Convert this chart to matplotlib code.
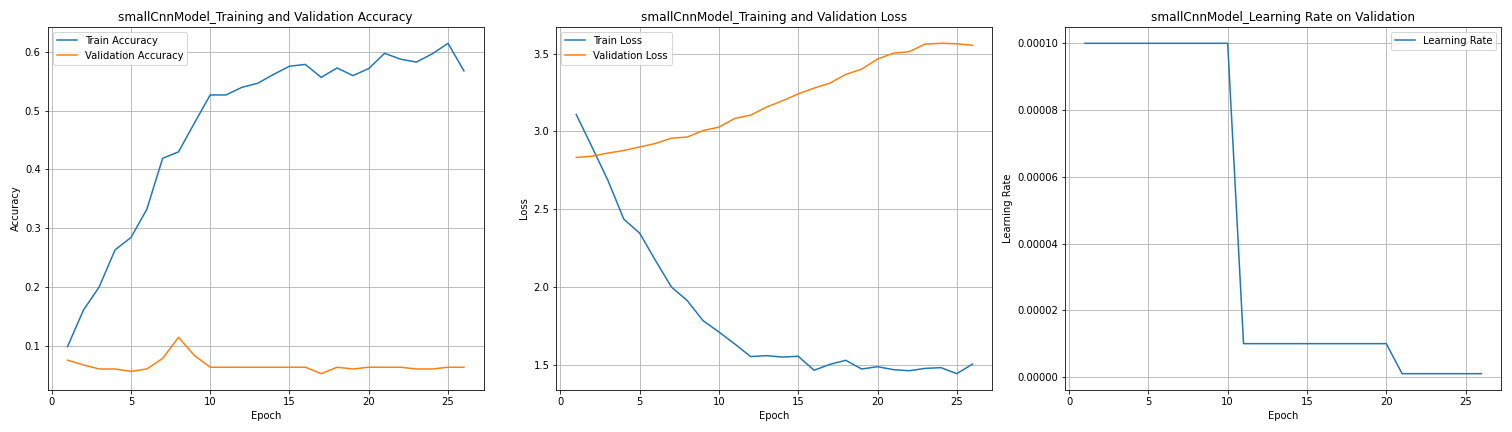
import matplotlib
matplotlib.use("Agg")
import matplotlib.pyplot as plt

model_name = "smallCnnModel"
epochs = list(range(1, 27))
train_acc = [0.098, 0.160, 0.200, 0.263, 0.284, 0.332, 0.419, 0.430, 0.479, 0.527,
             0.527, 0.540, 0.547, 0.562, 0.576, 0.579, 0.557, 0.573, 0.560, 0.572,
             0.598, 0.588, 0.583, 0.597, 0.615, 0.568]
val_acc = [0.075, 0.067, 0.060, 0.060, 0.056, 0.060, 0.078, 0.114, 0.083, 0.063,
           0.063, 0.063, 0.063, 0.063, 0.063, 0.063, 0.052, 0.063, 0.060, 0.063,
           0.063, 0.063, 0.060, 0.060, 0.063, 0.063]
train_loss = [3.109, 2.899, 2.685, 2.436, 2.346, 2.170, 2.000, 1.912, 1.783, 1.710,
              1.633, 1.552, 1.558, 1.549, 1.554, 1.464, 1.502, 1.528, 1.472, 1.487,
              1.468, 1.461, 1.476, 1.481, 1.442, 1.504]
val_loss = [2.833, 2.841, 2.861, 2.878, 2.900, 2.923, 2.957, 2.964, 3.006, 3.028,
            3.084, 3.105, 3.157, 3.197, 3.242, 3.279, 3.311, 3.367, 3.401, 3.466,
            3.504, 3.513, 3.562, 3.567, 3.564, 3.554]
learning_rate = [1e-4] * 10 + [1e-5] * 10 + [1e-6] * 6

fig = plt.figure(figsize=(21, 6), dpi=72)

ax1 = fig.add_subplot(1, 3, 1)
ax1.plot(epochs, train_acc, label="Train Accuracy")
ax1.plot(epochs, val_acc, label="Validation Accuracy")
ax1.set_title(f"{model_name}_Training and Validation Accuracy")
ax1.set_xlabel("Epoch")
ax1.set_ylabel("Accuracy")
ax1.legend()
ax1.grid(True)

ax2 = fig.add_subplot(1, 3, 2)
ax2.plot(epochs, train_loss, label="Train Loss")
ax2.plot(epochs, val_loss, label="Validation Loss")
ax2.set_title(f"{model_name}_Training and Validation Loss")
ax2.set_xlabel("Epoch")
ax2.set_ylabel("Loss")
ax2.legend()
ax2.grid(True)

ax3 = fig.add_subplot(1, 3, 3)
ax3.plot(epochs, learning_rate, label="Learning Rate")
ax3.set_title(f"{model_name}_Learning Rate on Validation")
ax3.set_xlabel("Epoch")
ax3.set_ylabel("Learning Rate")
ax3.legend()
ax3.grid(True)

fig.tight_layout()
fig.savefig("out.png", dpi=72)
